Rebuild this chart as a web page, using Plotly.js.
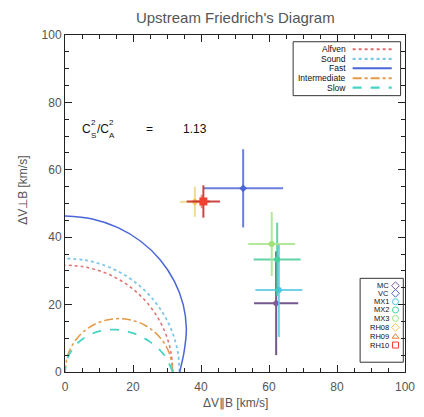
<!DOCTYPE html>
<html>
<head>
<meta charset="utf-8">
<script src="https://cdn.plot.ly/plotly-3.0.1.min.js"></script>
<style>html,body{margin:0;padding:0;background:#fff;}#chart{width:424px;height:417px;}</style>
</head>
<body>
<div id="chart"></div>
<script>
// Friedrichs curves, V_par vs V_perp in km/s
const alfvenX = [31.7, 31.22, 29.79, 27.45, 24.28, 20.38, 15.85, 10.84, 5.50, 0];
const alfvenY = [0, 5.50, 10.84, 15.85, 20.38, 24.28, 27.45, 29.79, 31.22, 31.7];
const soundX = [33.7, 33.19, 31.67, 29.18, 25.81, 21.66, 16.85, 11.53, 5.85, 0];
const soundY = [0, 5.85, 11.53, 16.85, 21.66, 25.81, 29.18, 31.67, 33.19, 33.7];
const fastX = [33.72, 35.06, 35.69, 34.75, 32.15, 27.97, 22.36, 15.59, 8.01, 0];
const fastY = [0, 6.18, 12.99, 20.06, 26.98, 33.33, 38.73, 42.84, 45.41, 46.28];
const interX = [31.7, 30.74, 27.99, 23.78, 18.60, 13.10, 7.93, 3.71, 0.96, 0];
const interY = [0, 5.42, 10.19, 13.73, 15.61, 15.61, 13.73, 10.19, 5.42, 0];
const slowX = [31.7, 29.11, 24.86, 19.99, 14.95, 10.16, 5.98, 2.75, 0.70, 0];
const slowY = [0, 5.13, 9.05, 11.54, 12.55, 12.10, 10.35, 7.54, 3.97, 0];

// Observed points
const pointNames = ['MC', 'VC', 'MX1', 'MX2', 'MX3', 'RH08', 'RH09', 'RH10'];
const pointX = [62.1, 52.4, 62.9, 62.4, 60.8, 38.2, 40.2, 40.7];
const pointY = [20.4, 54.5, 24.3, 33.4, 38.0, 50.5, 50.6, 50.6];
const pointErrX = [6.5, 11.75, 6.9, 6.9, 6.9, 4.4, 2.5, 4.9];
const pointErrY = [15.4, 11.6, 13.9, 10.9, 9.5, 4.45, 2.0, 4.8];

const curveNames = ['Alfven', 'Sound', 'Fast', 'Intermediate', 'Slow'];
const ratioValue = '1.13';

const curveStyles = [
  {color: '#e07070', dash: 'dot', width: 1.5},
  {color: '#7cc6e6', dash: 'dot', width: 1.8},
  {color: '#4a66d6', dash: 'solid', width: 1.5},
  {color: '#e49a48', dash: 'dashdot', width: 1.5},
  {color: '#48d4c4', dash: 'dash', width: 1.8}
];
const curveData = [[alfvenX, alfvenY], [soundX, soundY], [fastX, fastY], [interX, interY], [slowX, slowY]];

const pointStyles = [
  {color: '#7a5a9c', bar: 'rgba(100,70,130,0.9)', symbol: 'diamond'},
  {color: '#4a66d6', bar: 'rgba(80,105,215,0.85)', symbol: 'diamond'},
  {color: '#48c8e6', bar: 'rgba(90,200,225,0.85)', symbol: 'circle'},
  {color: '#40d49c', bar: 'rgba(70,205,150,0.85)', symbol: 'circle'},
  {color: '#9ee27a', bar: 'rgba(170,230,140,0.9)', symbol: 'circle'},
  {color: '#f0c850', bar: 'rgba(240,215,140,0.9)', symbol: 'diamond'},
  {color: '#f08040', bar: 'rgba(215,140,110,0.9)', symbol: 'triangle-up'},
  {color: '#f04030', bar: 'rgba(200,50,50,0.9)', symbol: 'square'}
];

const traces = [];
curveData.forEach((c, i) => {
  traces.push({
    x: c[0], y: c[1], type: 'scatter', mode: 'lines', name: curveNames[i],
    line: {color: curveStyles[i].color, dash: curveStyles[i].dash, width: curveStyles[i].width, shape: 'spline'},
    showlegend: false, hoverinfo: 'skip'
  });
});
pointNames.forEach((n, i) => {
  traces.push({
    x: [pointX[i]], y: [pointY[i]], type: 'scatter', mode: 'markers', name: n,
    marker: {color: pointStyles[i].color, symbol: pointStyles[i].symbol, size: i === 7 ? 8 : 6, line: {width: 0}},
    error_x: {type: 'data', array: [pointErrX[i]], color: pointStyles[i].bar, thickness: 2, width: 0},
    error_y: {type: 'data', array: [pointErrY[i]], color: pointStyles[i].bar, thickness: 2, width: 0},
    showlegend: false
  });
});

const fam = 'Liberation Sans, Arial, sans-serif';
const font = {family: fam, color: '#555', size: 12};
const shapes = [];
const annotations = [];

// legend 1 (curves)
shapes.push({type: 'rect', xref: 'paper', yref: 'paper', x0: 0.671, x1: 0.987, y0: 0.820, y1: 0.980,
  line: {color: '#333', width: 1}, fillcolor: 'rgba(255,255,255,0)'});
const leg1Y = [0.958, 0.929, 0.901, 0.872, 0.844];
curveNames.forEach((n, i) => {
  annotations.push({xref: 'paper', yref: 'paper', x: 0.833, y: leg1Y[i], xanchor: 'right', yanchor: 'middle',
    text: n, showarrow: false, font: {family: fam, size: 8.5, color: '#111'}});
  shapes.push({type: 'line', xref: 'paper', yref: 'paper', x0: 0.846, x1: 0.961, y0: leg1Y[i], y1: leg1Y[i],
    line: {color: curveStyles[i].color, dash: curveStyles[i].dash, width: curveStyles[i].width + 0.5}});
});

// legend 2 (points): labels as annotations, symbols drawn as markers on a hidden overlay axis
shapes.push({type: 'rect', xref: 'paper', yref: 'paper', x0: 0.868, x1: 0.995, y0: 0.029, y1: 0.278,
  line: {color: '#333', width: 1}, fillcolor: 'rgba(255,255,255,0)'});
const leg2Y = [0.256, 0.2335, 0.2086, 0.184, 0.159, 0.1326, 0.1047, 0.080];
pointNames.forEach((n, i) => {
  annotations.push({xref: 'paper', yref: 'paper', x: 0.958, y: leg2Y[i], xanchor: 'right', yanchor: 'middle',
    text: n, showarrow: false, font: {family: fam, size: 7.5, color: '#111'}});
});
traces.push({
  x: leg2Y.map(() => 0.972), y: leg2Y, xaxis: 'x2', yaxis: 'y2', type: 'scatter', mode: 'markers',
  marker: {symbol: pointStyles.map(s => s.symbol + '-open'), color: pointStyles.map(s => s.color), size: 6, line: {width: 1}},
  showlegend: false, hoverinfo: 'skip'
});

// ratio annotation: C_S^2 / C_A^2 = 1.13 with stacked sub/superscripts
const ratioPieces = [
  {t: 'C', x: 5.0, y: 72.1, s: 12},
  {t: '2', x: 7.7, y: 73.9, s: 8},
  {t: 'S', x: 7.7, y: 70.3, s: 8},
  {t: '/C', x: 9.3, y: 72.1, s: 12},
  {t: '2', x: 13.0, y: 73.9, s: 8},
  {t: 'A', x: 13.0, y: 70.3, s: 8},
  {t: '=', x: 23.8, y: 72.1, s: 12},
  {t: ratioValue, x: 34.7, y: 72.1, s: 12}
];
ratioPieces.forEach(p => {
  annotations.push({xref: 'x', yref: 'y', x: p.x, y: p.y, xanchor: 'left', yanchor: 'middle', text: p.t,
    showarrow: false, borderpad: 0, borderwidth: 0, font: {family: fam, size: p.s, color: '#111'}});
});

// axis titles
annotations.push({xref: 'paper', yref: 'paper', x: 0.5, y: -0.092, xanchor: 'center', yanchor: 'middle',
  text: '\u0394V\u2225B [km/s]', showarrow: false, font: font});
annotations.push({xref: 'paper', yref: 'paper', x: -0.124, y: 0.54, xanchor: 'center', yanchor: 'middle',
  text: '\u0394V\u22A5B [km/s]', textangle: -90, showarrow: false, font: font});

const axisCommon = {
  range: [0, 100], dtick: 20, tick0: 0, ticks: 'inside', ticklen: 7, tickwidth: 1, tickcolor: '#222',
  showline: true, linecolor: '#222', linewidth: 1, mirror: 'ticks',
  showgrid: false, zeroline: false, tickfont: font,
  minor: {dtick: 5, ticks: 'inside', ticklen: 4, tickcolor: '#222', showgrid: false}
};

const layout = {
  width: 424, height: 417,
  margin: {l: 65, r: 19, t: 35, b: 45},
  paper_bgcolor: '#fff', plot_bgcolor: '#fff',
  title: {text: "Upstream Friedrich's Diagram", x: 0.555, xanchor: 'center', y: 0.958, yanchor: 'middle',
    font: {family: fam, size: 15, color: '#555'}},
  xaxis: Object.assign({}, axisCommon, {ticklabelstandoff: 4}),
  yaxis: Object.assign({}, axisCommon),
  xaxis2: {overlaying: 'x', range: [0, 1], visible: false, fixedrange: true},
  yaxis2: {overlaying: 'y', range: [0, 1], visible: false, fixedrange: true},
  showlegend: false,
  shapes: shapes,
  annotations: annotations
};

Plotly.newPlot('chart', traces, layout, {displayModeBar: false, staticPlot: true});
</script>
</body>
</html>
